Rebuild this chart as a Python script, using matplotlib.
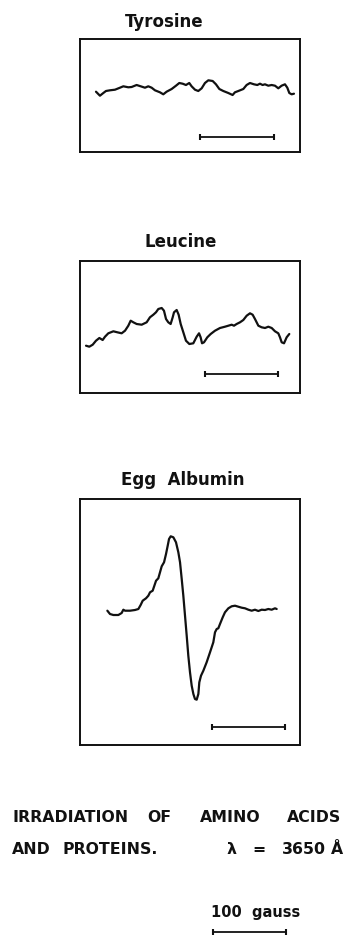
import matplotlib.pyplot as plt

W, H = 349, 937  # output size in pixels

# ESR traces, field in gauss from left edge of the box, signal in arbitrary units
TYR_FIELD = [21.8, 27.2, 31.8, 35.4, 40.9, 47.7, 54.5, 59.1, 65.9, 70.4, 77.2, 82.7,
             88.6, 93.1, 97.7, 102.2, 109, 113.6, 118.1, 125, 130.9, 135.4, 140,
             144.5, 149, 152.2, 156.8, 161.3, 165.9, 170.4, 175, 180.9, 185.4, 190,
             195.4, 202.2, 208.1, 211.3, 215.9, 222.7, 227.2, 231.8, 237.2, 241.8,
             245.4, 249, 252.2, 256.8, 261.3, 265.9, 270.4, 274.9, 279.5, 282.7,
             285.4, 288.6, 291.8]
TYR_SIGNAL = [60.3, 56.3, 59, 61, 61.7, 62.3, 64.3, 65.7, 64.7, 65, 67, 65.7,
              64.3, 65.7, 64.3, 61.7, 59.7, 57.7, 60.3, 63, 66.3, 69, 68.3,
              67, 69, 65.7, 62.3, 61, 63.7, 69, 71.7, 71, 67.7, 63,
              61, 59, 57, 59.7, 61, 63, 67, 69, 67.7, 67,
              68.3, 67, 67.7, 66.3, 67, 66.3, 63.7, 66.3, 67.7, 64.3,
              59, 57.7, 58.3]

LEU_FIELD = [8.2, 12.7, 17.3, 21.8, 26.4, 30.9, 34.1, 38.6, 45.5, 50.9, 56.8, 61.4,
             65.9, 69.1, 72.7, 77.3, 84.1, 90.9, 95.4, 100, 103.6, 106.8, 111.4,
             114.5, 117.3, 120.4, 123.6, 126.4, 128.2, 131.8, 134.5, 137.3, 140.9,
             144.5, 149.1, 154.5, 159.1, 162.3, 164.5, 166.4, 169.1, 173.6, 178.2,
             184.1, 190.9, 197.7, 202.3, 206.8, 210, 213.6, 218.2, 222.7, 227.3,
             231.8, 235.4, 238.6, 243.2, 247.7, 252.3, 256.8, 261.4, 265.9, 270.4,
             272.7, 275, 278.2, 281.8, 285.4]
LEU_SIGNAL = [47.3, 46.3, 48.3, 52.3, 55, 53, 56.3, 59.7, 61.7, 60.7, 59.7, 62.3,
              67.3, 72.3, 70.7, 69, 68.3, 70.7, 75.7, 78.3, 80.7, 84, 85,
              82.3, 74, 70.7, 69, 75.7, 80.7, 83, 78.3, 69, 60.7,
              52.3, 49, 49.7, 56.3, 59.7, 55.7, 49.7, 50.7, 55.7, 59,
              62.3, 65, 66.3, 67.3, 68.3, 67.3, 69, 70.7, 73, 77.3,
              79.7, 78.3, 74, 67.3, 65.7, 65, 66.3, 65, 61.7, 59.7,
              55.7, 50.7, 49.7, 55.7, 59]

EGG_FIELD = [37.3, 40.9, 45.5, 52.3, 56.8, 59.1, 61.4, 68.2, 75, 79.6, 82.7, 85.5,
             90, 93.2, 95.5, 99.1, 101.4, 103.7, 106.8, 109.1, 111.4, 114.6, 117.3,
             119.6, 121.4, 123.7, 127.3, 130.9, 134.1, 136.4, 138.7, 140.9, 143.2,
             145.5, 147.7, 150, 152.3, 154.6, 156.8, 159.1, 161.4, 162.7, 165,
             168.2, 172.7, 177.3, 181.8, 184.1, 186.4, 188.6, 190.9, 194.6, 197.7,
             202.3, 206.8, 211.4, 215.9, 220.5, 225, 229.6, 234.1, 238.6, 243.2,
             247.7, 252.3, 256.8, 261.4, 265.9, 268.2]
EGG_SIGNAL = [134.3, 131, 130, 130, 132, 135.3, 134.3, 134.3, 135, 136, 140, 144.3,
              146.7, 149.3, 152.7, 154.3, 159.3, 164.3, 166.7, 172.7, 178.7, 182.7, 191,
              199.3, 206, 208.7, 207.7, 202.7, 192.7, 182.7, 166, 149.3, 129.3,
              109.3, 89.3, 72.7, 59.3, 51, 46, 45.3, 51, 62.7, 69.3,
              74.3, 82.7, 92.7, 102.7, 112.7, 116, 116.7, 121, 127.7, 132.7,
              136.7, 138.7, 139.3, 138.3, 137.3, 136.7, 135.3, 134.3, 135.3, 134,
              135.3, 135, 136, 135.3, 136.7, 136]

PANEL_NAMES = ["Tyrosine", "Leucine", "Egg  Albumin"]
PANEL_FIELDS = [TYR_FIELD, LEU_FIELD, EGG_FIELD]
PANEL_SIGNALS = [TYR_SIGNAL, LEU_SIGNAL, EGG_SIGNAL]
BAR_START = [164, 170, 180]      # gauss
BAR_LEVEL = [15, 19, 18]
BAR_LENGTH = 100                 # gauss
FIELD_RANGE = 300                # gauss across a box

# box layout in pixels: left, top, right, bottom
BOXES = [(80, 40, 300, 153), (80, 262, 300, 394), (80, 500, 300, 746)]
TITLE_POS = [(164, 22), (181, 242), (183, 480)]

# caption words with their left x and line y (pixels)
CAPTION = [("IRRADIATION", 12, 818), ("OF", 147, 818), ("AMINO", 200, 818), ("ACIDS", 287, 818),
           ("AND", 12, 850), ("PROTEINS.", 62, 850), ("λ", 226, 850), ("=", 252, 850),
           ("3650", 282, 850), ("Å", 331, 850)]

INK = "#111111"


def px_axes(fig, left, top, right, bottom):
    return fig.add_axes([left / W, 1 - bottom / H, (right - left) / W, (bottom - top) / H])


def scale_bar(ax, x0, y):
    ax.plot([x0, x0 + BAR_LENGTH], [y, y], color=INK, lw=1.3, solid_capstyle="butt", clip_on=False)
    ax.plot([x0, x0 + BAR_LENGTH], [y, y], ls="none", marker="|", ms=5, mew=1.5, color=INK, clip_on=False)


fig = plt.figure(figsize=(W / 100, H / 100), dpi=100)
fig.patch.set_facecolor("white")

for i, name in enumerate(PANEL_NAMES):
    l, t, r, b = BOXES[i]
    ax = px_axes(fig, l, t, r, b)
    ax.plot(PANEL_FIELDS[i], PANEL_SIGNALS[i], color=INK, lw=1.6,
            solid_joinstyle="round", solid_capstyle="round")
    scale_bar(ax, BAR_START[i], BAR_LEVEL[i])
    ax.set_xlim(0, FIELD_RANGE)
    ax.set_ylim(0, b - t)
    ax.set_xticks([])
    ax.set_yticks([])
    for sp in ax.spines.values():
        sp.set_linewidth(1.4)
        sp.set_color(INK)
    tx, ty = TITLE_POS[i]
    fig.text(tx / W, 1 - ty / H, name, ha="center", va="center",
             fontsize=12, fontweight="bold", color=INK, family="DejaVu Sans")

# caption
for word, x, y in CAPTION:
    fig.text(x / W, 1 - y / H, word, ha="left", va="center",
             fontsize=11.3, color=INK, family="DejaVu Sans", fontweight="bold")

# footer scale
fax = px_axes(fig, 80, 900, 300, 937)
fax.set_xlim(0, FIELD_RANGE)
fax.set_ylim(0, 37)
fax.axis("off")
scale_bar(fax, 181, 4)
fig.text(256 / W, 1 - 913 / H, "100  gauss", ha="center", va="center",
         fontsize=10.5, color=INK, family="DejaVu Sans", fontweight="bold")

fig.savefig("out.png", dpi=100, facecolor="white")
